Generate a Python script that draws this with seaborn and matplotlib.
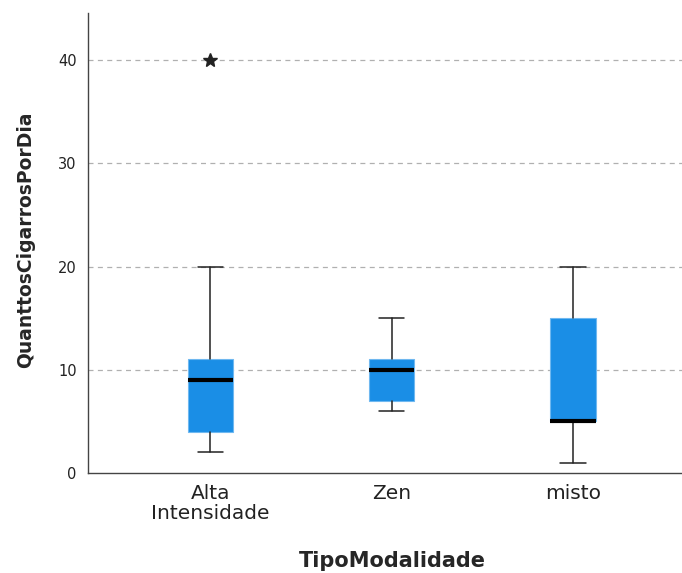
import matplotlib
matplotlib.use("Agg")
import matplotlib.pyplot as plt
import seaborn as sns

sns.set_style("white")
plt.rcParams["font.family"] = ["DejaVu Sans"]

categorias = ["Alta\nIntensidade", "Zen", "misto"]
minimos = [2, 6, 1]
q1 = [4, 7, 5]
medianas = [9, 10, 5]
q3 = [11, 11, 15]
maximos = [20, 15, 20]
outliers = [[40], [], []]

stats = []
for i in range(len(categorias)):
    stats.append({
        "label": categorias[i],
        "whislo": minimos[i],
        "q1": q1[i],
        "med": medianas[i],
        "q3": q3[i],
        "whishi": maximos[i],
        "fliers": outliers[i],
    })

fig = plt.figure(figsize=(6.82, 5.73), dpi=100)
ax = fig.add_axes([0.129, 0.1745, 0.871, 0.8025])

ax.bxp(
    stats,
    positions=range(len(categorias)),
    widths=0.25,
    patch_artist=True,
    boxprops=dict(facecolor="#1a8ee6", edgecolor="#6fb8f0", linewidth=0.8),
    medianprops=dict(color="black", linewidth=3),
    whiskerprops=dict(color="#222222", linewidth=1.1),
    capprops=dict(color="#222222", linewidth=1.1),
    capwidths=0.14,
    flierprops=dict(marker="*", markersize=10, markerfacecolor="#222222",
                    markeredgecolor="#222222", linestyle="none"),
    zorder=3,
)

ax.set_xlim(-0.674, 2.6)
ax.set_ylim(0, 44.55)
ax.set_yticks([0, 10, 20, 30, 40])
for v in [10, 20, 30, 40]:
    ax.axhline(v, color="#b0b0b0", linestyle=(0, (4, 3.5)), linewidth=0.9, zorder=1)

ax.set_xticks(range(len(categorias)))
ax.set_xticklabels(categorias, fontsize=14.5, color="#222222", linespacing=1.05)
ax.tick_params(axis="y", labelsize=10.5, labelcolor="#222222", length=0, pad=8)
ax.tick_params(axis="x", length=0, pad=8)

ax.set_ylabel("QuanttosCigarrosPorDia", fontsize=13.5, fontweight="bold")
ax.set_xlabel("TipoModalidade", fontsize=15, fontweight="bold")
ax.yaxis.set_label_coords(-0.089, 0.507)
ax.xaxis.set_label_coords(0.513, -0.17)

sns.despine(ax=ax, top=True, right=True)
for s in ["left", "bottom"]:
    ax.spines[s].set_color("#444444")
    ax.spines[s].set_linewidth(1.0)

fig.savefig("out.png", dpi=100)
